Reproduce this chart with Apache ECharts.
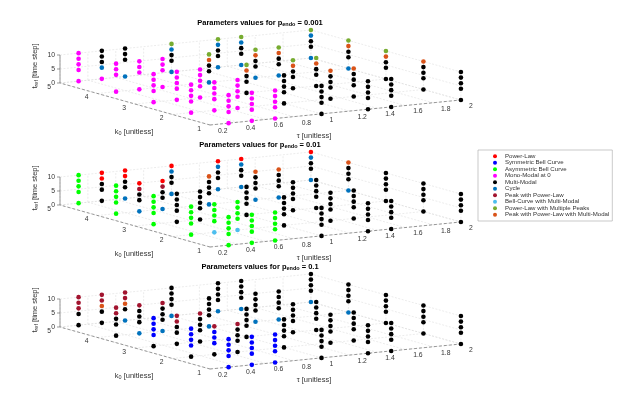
<!DOCTYPE html>
<html>
<head>
<meta charset="utf-8">
<title>Parameters values</title>
<script src="https://cdn.jsdelivr.net/npm/echarts@6.0.0/dist/echarts.min.js"></script>
<style>
html, body { margin: 0; padding: 0; background: #fff; }
#chart { width: 622px; height: 414px; }
</style>
</head>
<body>
<div id="chart"></div>
<script>
// grid of parameters
var tauValues = [1/3, 1/2, 2/3, 1, 4/3, 3/2, 2];
var k0Values = [1, 2, 3, 4, 5];
var trefValues = [0, 4, 6, 8, 10];
var pendoLabels = ['0.001', '0.01', '0.1'];

// axis ticks
var tauTicks = [0.2, 0.4, 0.6, 0.8, 1, 1.2, 1.4, 1.6, 1.8, 2];
var tauTickLabels = ['0.2', '0.4', '0.6', '0.8', '1', '1.2', '1.4', '1.6', '1.8', '2'];
var k0Ticks = [1, 2, 3, 4, 5];
var trefTicks = [0, 5, 10];

// classes (legend order)
var classNames = ['Power-Law', 'Symmetric Bell Curve', 'Asymmetric Bell Curve', 'Mono-Modal at 0',
    'Multi-Modal', 'Cycle', 'Peak with Power-Law', 'Bell-Curve with Multi-Modal',
    'Power-Law with Multiple Peaks', 'Peak with Power-Law with Multi-Modal'];
var classCodes = ['P', 'S', 'A', 'M', 'K', 'C', 'W', 'L', 'G', 'O'];
var classColors = ['#ff0000', '#0000ff', '#00ff00', '#ff00ff', '#000000', '#0072bd',
    '#a2142f', '#4dbeee', '#77ac30', '#d95319'];

// one row per k0 (1..5), one string per tau, one letter per t_ref (0,4,6,8,10), '.' = no point
var pendo0001 = [
    ['MMMMM', 'MMMMM', 'MMMMM', 'KKKKK', 'KKKKK', 'KKKKK', 'KKKKK'],
    ['MMMMM', 'MMMMM', 'MMMMM', 'KKKKK', 'KKKKO', 'KKKKO', 'KKKKO'],
    ['MMMMM', 'MMMMM', 'MMMMM', 'KKKOG', 'KKKOG', 'KKKOG', 'KKKOG'],
    ['M.MMM', 'M.MMM', 'M.MMM', 'CKKOG', 'CKKOG', 'CKKOG', 'CKKOG'],
    ['MMMMM', 'MCKKK', 'C.KKK', 'CKKCG', 'CKKCG', 'CKKCG', 'CKKCG']
];
var pendo001 = [
    ['AAAAA', 'AAAAA', 'AAAAA', 'KKKKK', 'KKKKK', 'KKKKK', 'KKKKK'],
    ['AAAAA', 'LAAAA', 'LAAAA', 'KKKKK', 'KKKKK', 'KKKKK', 'KKKKK'],
    ['AAAAA', 'KKKKK', 'KKKKK', 'KKKKK', 'KKKKK', 'KKKKK', 'KKKKK'],
    ['AAAAA', 'CKKWP', 'CKKWP', 'CKKKO', 'CKKKO', 'CKKKO', 'CKKKO'],
    ['AAAAA', 'KKKPP', 'CKKPP', 'CKKCP', 'CKKCP', 'CKKCP', 'CKKCP']
];
var pendo01 = [
    ['SSSSS', 'SSSSS', 'SSSSS', 'KKKKK', 'KKKKK', 'KKKKK', 'KKKKK'],
    ['KSSSS', 'KSSSW', 'KKKKW', 'KKKKK', 'KKKKK', 'KKKKK', 'KKKKK'],
    ['KSSSS', 'KKKWW', 'KKKKW', 'KKKKK', 'KKKKK', 'KKKKK', 'KKKKK'],
    ['KKKWW', 'CKKKW', 'CKKKW', 'CKKKK', 'CKKKK', 'CKKKK', 'CKKKK'],
    ['KKWWW', 'KKOWW', 'CKOWW', 'CKKKK', 'CKKKK', 'CKKKK', 'CKKKK']
];
var panelTables = [pendo0001, pendo001, pendo01];

// view: fixed oblique projection of (tau, k0, tref) onto the page
var ORIGIN = [210, 125];      // tau=0.2, k0=1, tref=0 of the top panel
var PANEL_DY = 122;
var TAU_DIR = [139.4, -13.9]; // per unit tau
var K0_DIR = [-37.5, -10.5];  // per unit k0
var TREF_DY = -2.8;           // per unit tref

function proj(p, tau, k0, tref) {
    return [ORIGIN[0] + (tau - 0.2) * TAU_DIR[0] + (k0 - 1) * K0_DIR[0],
            ORIGIN[1] + p * PANEL_DY + (tau - 0.2) * TAU_DIR[1] + (k0 - 1) * K0_DIR[1] + tref * TREF_DY];
}

var FONT = 'Liberation Sans, Arial, Helvetica, sans-serif';
var TXT = '#333333';
var GRID_C = '#d9d9d9';
var AXIS_C = '#555555';

// lines and texts of the three boxes
var decor = [];
function addLine(a, b, color, width, dash) {
    decor.push({kind: 'line', a: a, b: b, color: color, width: width, dash: dash});
}
function addText(at, text, align, size, opt) {
    opt = opt || {};
    decor.push({kind: 'text', at: at, text: text, align: align, size: size,
        bold: !!opt.bold, rotate: opt.rotate || 0});
}

for (var p = 0; p < 3; p++) {
    var dy = p * PANEL_DY;
    // floor grid
    tauTicks.forEach(function (t) { addLine(proj(p, t, 1, 0), proj(p, t, 5, 0), GRID_C, 0.5, [2, 1.5]); });
    k0Ticks.forEach(function (k) { addLine(proj(p, 0.2, k, 0), proj(p, 2, k, 0), GRID_C, 0.5, [2, 1.5]); });
    // back wall k0 = 5
    tauTicks.forEach(function (t) { addLine(proj(p, t, 5, 0), proj(p, t, 5, 10), GRID_C, 0.5, [2, 1.5]); });
    trefTicks.forEach(function (z) { addLine(proj(p, 0.2, 5, z), proj(p, 2, 5, z), GRID_C, 0.5, [2, 1.5]); });
    // side wall tau = 2
    k0Ticks.forEach(function (k) { addLine(proj(p, 2, k, 0), proj(p, 2, k, 10), GRID_C, 0.5, [2, 1.5]); });
    trefTicks.forEach(function (z) { addLine(proj(p, 2, 1, z), proj(p, 2, 5, z), GRID_C, 0.5, [2, 1.5]); });
    // axis lines
    addLine(proj(p, 0.2, 1, 0), proj(p, 2, 1, 0), AXIS_C, 0.6, [3, 2]);
    addLine(proj(p, 0.2, 1, 0), proj(p, 0.2, 5, 0), AXIS_C, 0.6, [3, 2]);
    addLine(proj(p, 0.2, 5, 0), proj(p, 0.2, 5, 10), AXIS_C, 0.6, null);
    // tick labels
    tauTicks.forEach(function (t, i) {
        var q = proj(p, t, 1, 0);
        addText([q[0] + 8, q[1] + 6], tauTickLabels[i], 'left', 6.8);
    });
    k0Ticks.forEach(function (k) {
        var q = proj(p, 0.2, k, 0);
        addText([q[0] - 9, q[1] + 4], String(k), 'right', 6.8);
    });
    trefTicks.forEach(function (z) {
        var q = proj(p, 0.2, 5, z);
        addLine([q[0] - 3, q[1]], q, AXIS_C, 0.6, null);
        addText([q[0] - 5, q[1]], String(z), 'right', 6.8);
    });
    // axis titles
    addText([314, 136 + dy], '{n|\u03c4 [unitless]}', 'center', 7.5);
    addText([134, 132 + dy], '{n|k}{s|0}{n| [unitless]}', 'center', 7.5);
    addText([35, 66 + dy], '{n|t}{s|ref}{n| [time step]}', 'center', 7.5, {rotate: Math.PI / 2});
    // panel title
    addText([260, 23 + dy], '{b|Parameters values for p}{bs|endo}{b| = ' + pendoLabels[p] + '}', 'center', 7.5, {bold: true});
}

var RICH = {
    n: {fontSize: 7.5, lineHeight: 9, fontFamily: FONT, fill: TXT, color: TXT},
    s: {fontSize: 5.5, lineHeight: 5, verticalAlign: 'bottom', fontFamily: FONT, fill: TXT, color: TXT},
    b: {fontSize: 7.5, lineHeight: 9, fontWeight: 'bold', fontFamily: FONT, fill: '#000', color: '#000'},
    bs: {fontSize: 5.5, lineHeight: 5, verticalAlign: 'bottom', fontWeight: 'bold', fontFamily: FONT, fill: '#000', color: '#000'}
};

function renderDecor(params, api) {
    var d = decor[params.dataIndex];
    if (d.kind === 'line') {
        var a = api.coord(d.a), b = api.coord(d.b);
        return {
            type: 'line',
            shape: {x1: a[0], y1: a[1], x2: b[0], y2: b[1]},
            style: {stroke: d.color, lineWidth: d.width, lineDash: d.dash || null}
        };
    }
    var q = api.coord(d.at);
    return {
        type: 'text',
        x: q[0], y: q[1],
        rotation: d.rotate,
        style: {
            text: d.text, rich: RICH,
            fontSize: d.size, fontFamily: FONT, fontWeight: d.bold ? 'bold' : 'normal',
            fill: d.bold ? '#000' : TXT,
            align: d.align, verticalAlign: 'middle'
        }
    };
}

function classPoints(code) {
    var out = [];
    panelTables.forEach(function (table, p) {
        k0Values.forEach(function (k0, ki) {
            tauValues.forEach(function (tau, ti) {
                var s = table[ki][ti];
                trefValues.forEach(function (tref, zi) {
                    if (s.charAt(zi) === code) out.push(proj(p, tau, k0, tref));
                });
            });
        });
    });
    return out;
}

var series = [{
    type: 'custom',
    coordinateSystem: 'cartesian2d',
    renderItem: renderDecor,
    data: decor.map(function (d, i) { return [0, 0]; }),
    silent: true,
    z: 1
}];
classNames.forEach(function (name, ci) {
    series.push({
        type: 'scatter',
        name: name,
        symbol: 'circle',
        symbolSize: 4.6,
        itemStyle: {color: classColors[ci], opacity: 1},
        data: classPoints(classCodes[ci]),
        silent: true,
        z: 3
    });
});

var myChart = echarts.init(document.getElementById('chart'), null, {renderer: 'canvas'});
var option = {
    backgroundColor: '#ffffff',
    animation: false,
    grid: {left: 0, right: 0, top: 0, bottom: 0},
    xAxis: {type: 'value', min: 0, max: 622, show: false},
    yAxis: {type: 'value', min: 0, max: 414, inverse: true, show: false},
    legend: {
        orient: 'vertical',
        left: 478, top: 150,
        itemWidth: 10, itemHeight: 4, itemGap: 0,
        padding: [3, 3, 3, 15],
        borderColor: '#a6a6a6', borderWidth: 0.6,
        backgroundColor: '#ffffff',
        selectedMode: false,
        textStyle: {fontSize: 6.1, lineHeight: 6.5, color: TXT, fontFamily: FONT},
        data: classNames
    },
    series: series
};
myChart.setOption(option);
</script>
</body>
</html>
